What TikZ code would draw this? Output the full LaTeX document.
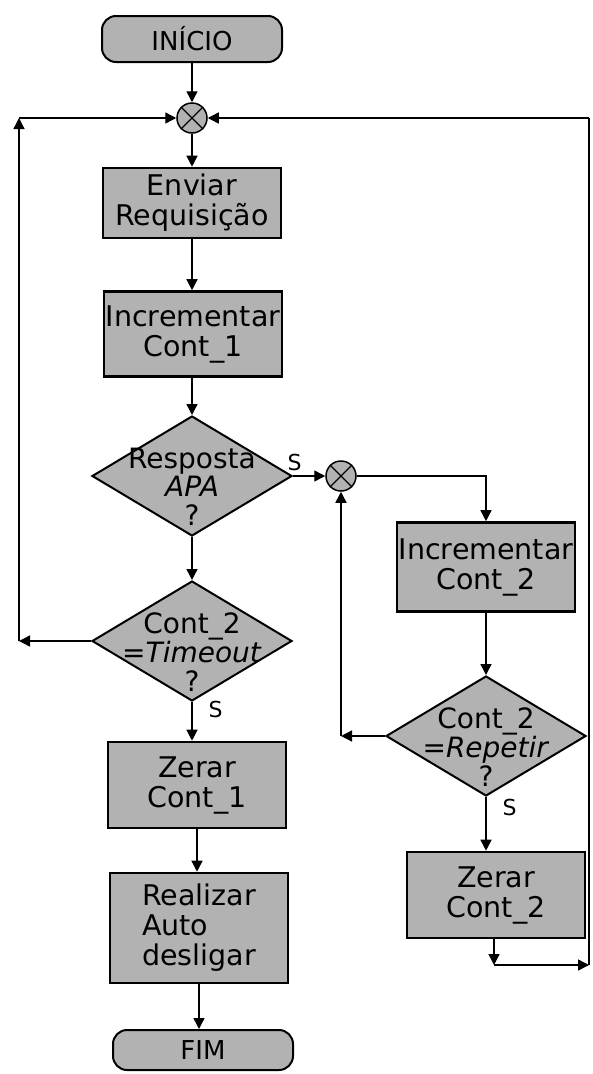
\documentclass[tikz,border=0pt]{standalone}
\usepackage{fontspec}
\setmainfont{DejaVu Sans}
\usetikzlibrary{arrows.meta,shapes.geometric}
\definecolor{shade}{gray}{0.70}

% three centred lines that may overhang a diamond's outline
\newcommand{\dtext}[1]{\smash{\raisebox{-21pt}{\makebox[0pt]{\begin{tabular}{@{}c@{}}#1\end{tabular}}}}}

\begin{document}
\begin{tikzpicture}[x=1pt,y=-1pt,
  term/.style={draw, line width=2pt, fill=shade, rounded corners=14pt,
    minimum width=180pt, minimum height=46pt, inner sep=0pt,
    font=\fontsize{26}{28}\selectfont},
  proc/.style={draw, line width=2.6pt, fill=shade, minimum width=178pt,
    inner sep=0pt, align=center, font=\fontsize{28.5}{30}\selectfont},
  dec/.style={draw, diamond, line width=2pt, fill=shade,
    minimum width=200pt, minimum height=120pt, inner sep=0pt,
    font=\fontsize{28}{26}\selectfont},
  junc/.style={draw, circle, line width=1.5pt, fill=shade,
    minimum size=30pt, inner sep=0pt},
  flow/.style={line width=1.4pt, -{Triangle[length=11pt,width=11pt]}},
  plain/.style={line width=1.4pt},
  yes/.style={font=\fontsize{22}{24}\selectfont, inner sep=2pt}
]
\useasboundingbox (0,0) rectangle (593,1074);

% main column
\node[term] (ini) at (192,39) {INÍCIO};
\node[junc] (m1) at (192,118) {};
\node[proc, minimum height=70pt] (env) at (192,203) {Enviar\\Requisição};
\node[proc, minimum height=85pt] (inc1) at (193,334) {Incrementar\\Cont\_1};
\node[dec] (d1) at (192,476) {\dtext{Resposta\\\textit{APA}\\?}};
\node[dec] (d2) at (192,641) {\dtext{Cont\_2\\=\textit{Timeout}\\?}};
\node[proc, minimum height=86pt] (zer1) at (197,785) {Zerar\\Cont\_1};
\node[proc, minimum height=110pt, align=left] (real) at (199,928) {Realizar\\Auto\\desligar};
\node[term, minimum height=40pt] (fim) at (203,1050) {FIM};

% retry column
\node[junc] (m2) at (341,476) {};
\node[proc, minimum height=89pt] (inc2) at (486,567) {Incrementar\\Cont\_2};
\node[dec] (d3) at (486,736) {\dtext{Cont\_2\\=\textit{Repetir}\\?}};
\node[proc, minimum height=86pt] (zer2) at (496,895) {Zerar\\Cont\_2};

% crosses in the junctions
\foreach \j in {m1,m2}
  \draw[line width=1.2pt] (\j.north east) -- (\j.south west)
                          (\j.north west) -- (\j.south east);

% loop corners
\coordinate (l1) at (19,641);
\coordinate (l2) at (19,118);
\coordinate (r1) at (341,736);
\coordinate (b1) at (494,965);
\coordinate (b2) at (589,965);
\coordinate (b3) at (589,118);

% straight-down flow
\draw[flow] (ini.south) -- (m1.north);
\draw[flow] (m1.south) -- (env.north);
\draw[flow] (env.south) -- (env.south |- inc1.north);
\draw[flow] (inc1.south -| d1.north) -- (d1.north);
\draw[flow] (d1.south) -- (d2.north);
\draw[flow] (d2.south) -- node[yes, pos=0.2, right, xshift=14pt] {S} (d2.south |- zer1.north);
\draw[flow] (zer1.south) -- (zer1.south |- real.north);
\draw[flow] (real.south) -- (real.south |- fim.north);

% timeout not reached: back to the top
\draw[flow] (d2.west) -- (l1);
\draw[flow] (l1) -- (l2);
\draw[flow] (l2) -- (m1.west);

% answer received: retry branch
\draw[flow] (d1.east) -- node[yes, pos=0.05, above, yshift=2pt] {S} (m2.west);
\draw[flow] (m2.east) -| (inc2.north);
\draw[flow] (inc2.south) -- (d3.north);
\draw[flow] (d3.west) -- (r1);
\draw[flow] (r1) -- (m2.south);
\draw[flow] (d3.south) -- node[yes, pos=0.2, right, xshift=14pt] {S} (d3.south |- zer2.north);

% retries done: back to the top
\draw[flow] (zer2.south -| b1) -- (b1);
\draw[flow] (b1) -- (b2);
\draw[plain] (b2) -- (b3);
\draw[flow] (b3) -- (m1.east);
\end{tikzpicture}
\end{document}
